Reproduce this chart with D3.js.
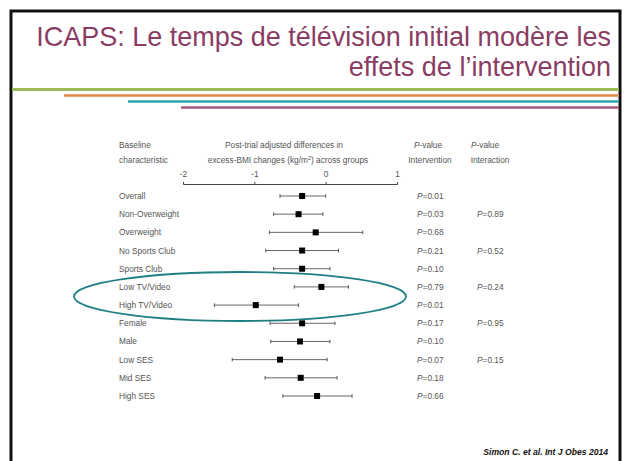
<!DOCTYPE html>
<html><head><meta charset="utf-8">
<script src="https://cdn.jsdelivr.net/npm/d3@7"></script>
<style>
html,body{margin:0;padding:0;background:#fff;}
svg{display:block;}
text{font-family:"Liberation Sans",Arial,sans-serif;}
</style></head>
<body>
<script>
const titleLines = ["ICAPS: Le temps de télévision initial modère les", "effets de l\u2019intervention"];
const categories = ["Overall","Non-Overweight","Overweight","No Sports Club","Sports Club","Low TV/Video","High TV/Video","Female","Male","Low SES","Mid SES","High SES"];
const estimates = [-0.33,-0.38,-0.14,-0.33,-0.33,-0.06,-0.98,-0.33,-0.36,-0.64,-0.35,-0.12];
const lowerCI   = [-0.64,-0.73,-0.79,-0.84,-0.73,-0.44,-1.56,-0.78,-0.77,-1.31,-0.85,-0.60];
const upperCI   = [0.00,-0.04,0.52,0.18,0.06,0.32,-0.38,0.13,0.06,0.02,0.16,0.37];
const pIntervention = ["0.01","0.03","0.68","0.21","0.10","0.79","0.01","0.17","0.10","0.07","0.18","0.66"];
const pInteraction  = ["","0.89","","0.52","","0.24","","0.95","","0.15","",""];
const tickValues = [-2,-1,0,1];
const citation = "Simon C. et al. Int J Obes 2014";

const W = 624, H = 461;
const svg = d3.select("body").append("svg").attr("width", W).attr("height", H);

// slide frame
svg.append("rect").attr("x",11).attr("y",11).attr("width",609).attr("height",470)
  .attr("fill","none").attr("stroke","#111").attr("stroke-width",3);

// title (condensed look: larger size, squeezed horizontally)
const titleColor = "#8a3c63";
const tfs = 27.5;
function titleLine(s, yb, sx){
  const t = svg.append("text").attr("text-anchor","end").attr("fill",titleColor)
    .attr("font-size",tfs).text(s);
  if (sx === undefined) sx = 575 / t.node().getComputedTextLength();
  t.attr("transform", `translate(611,${yb}) scale(${sx},1)`);
  return sx;
}
const sx = titleLine(titleLines[0], 45.5);
titleLine(titleLines[1], 75.5, sx);

// decorative lines
const deco = [
  {x:12, y:89.5, c:"#9bbb59", w:3},
  {x:64, y:95.5, c:"#e8844a", w:2.5},
  {x:128,y:101.5,c:"#2ba3ad", w:2.5},
  {x:181,y:107.5,c:"#a5577d", w:2.5}
];
deco.forEach(d => svg.append("line").attr("x1",d.x).attr("x2",619).attr("y1",d.y).attr("y2",d.y)
  .attr("stroke",d.c).attr("stroke-width",d.w));

// scales
const x = d3.scaleLinear().domain([-2,1]).range([183,397]);
const y = d3.scalePoint().domain(categories).range([196,396]);

const txt = "#555";
const fsz = 8.3;
function label(xp, yp, s, anchor){
  return svg.append("text").attr("x",xp).attr("y",yp).attr("font-size",fsz).attr("fill",txt)
    .attr("text-anchor",anchor||"start").text(s);
}
// headers
label(119,148,"Baseline");
label(119,163,"characteristic");
label(284,148,"Post-trial adjusted differences in","middle");
const h2 = svg.append("text").attr("x",288).attr("y",163).attr("font-size",fsz).attr("fill",txt).attr("text-anchor","middle");
h2.append("tspan").text("excess-BMI changes (kg/m");
h2.append("tspan").attr("font-size",5.5).attr("dy",-3).text("2");
h2.append("tspan").attr("dy",3).text(") across groups");

function pval(xp, yp, rest, anchor){
  const t = svg.append("text").attr("x",xp).attr("y",yp).attr("font-size",fsz).attr("fill",txt)
    .attr("text-anchor",anchor||"start");
  t.append("tspan").attr("font-style","italic").text("P");
  t.append("tspan").text(rest);
  return t;
}
pval(428,148,"-value","middle");
label(430,163,"Intervention","middle");
pval(485,148,"-value","middle");
label(490,163,"Interaction","middle");

// axis
const axis = d3.axisTop(x).tickValues(tickValues).tickSizeInner(2).tickSizeOuter(2).tickPadding(5)
  .tickFormat(d => String(d));
const ax = svg.append("g").attr("transform","translate(0,184)").call(axis);
ax.select(".domain").attr("stroke","#444").attr("stroke-width",1);
ax.selectAll(".tick line").attr("stroke","#444");
ax.selectAll(".tick text").attr("font-size",fsz).attr("fill",txt).attr("font-family","Liberation Sans, Arial, sans-serif");

// rows
const rows = categories.map((c,i)=>({c, e:estimates[i], lo:lowerCI[i], hi:upperCI[i], p1:pIntervention[i], p2:pInteraction[i]}));
const g = svg.append("g");
rows.forEach(r=>{
  const yy = y(r.c);
  label(119, yy+3, r.c);
  g.append("line").attr("x1",x(r.lo)).attr("x2",x(r.hi)).attr("y1",yy).attr("y2",yy)
    .attr("stroke","#555").attr("stroke-width",0.9);
  [r.lo,r.hi].forEach(v=> g.append("line").attr("x1",x(v)).attr("x2",x(v)).attr("y1",yy-1.8).attr("y2",yy+1.8)
    .attr("stroke","#444").attr("stroke-width",0.9));
  g.append("rect").attr("x",x(r.e)-3).attr("y",yy-3).attr("width",6).attr("height",6).attr("fill","#000");
  pval(417, yy+3, "=" + r.p1);
  if (r.p2) pval(477, yy+3, "=" + r.p2);
});

// highlight ellipse
const yc = (y("Low TV/Video") + y("High TV/Video"))/2;
svg.append("ellipse").attr("cx",240).attr("cy",yc+0.5).attr("rx",166).attr("ry",24.5)
  .attr("fill","none").attr("stroke","#1f7e86").attr("stroke-width",1.8);

// citation
svg.append("text").attr("x",608).attr("y",455).attr("text-anchor","end")
  .attr("font-size",8.6).attr("font-weight","bold").attr("font-style","italic").attr("fill","#111")
  .text(citation);
</script>
</body></html>
